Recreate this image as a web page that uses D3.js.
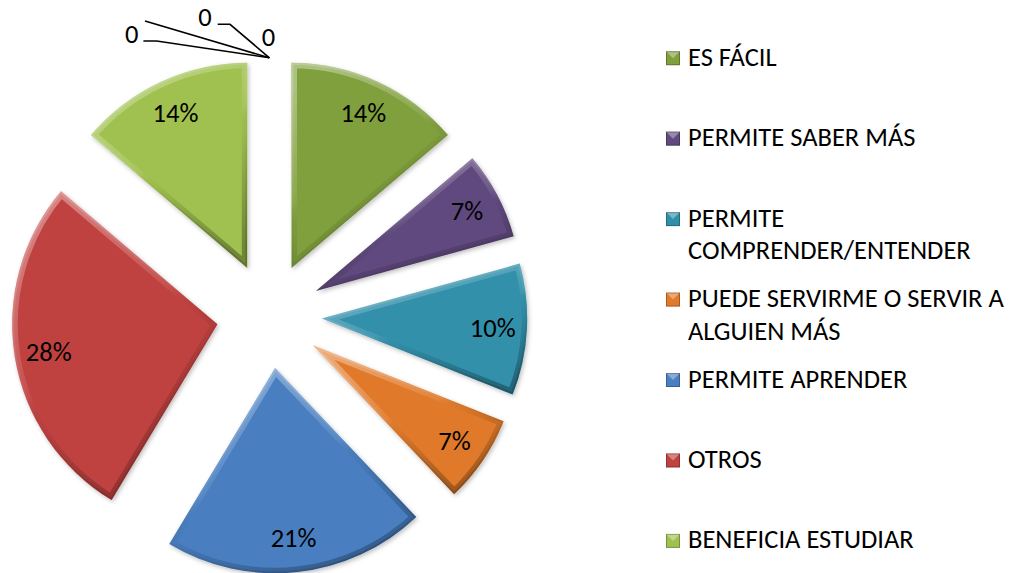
<!DOCTYPE html>
<html lang="es">
<head>
<meta charset="UTF-8">
<title>Pie chart</title>
<script src="https://d3js.org/d3.v7.min.js"></script>
<style>
  html, body { margin: 0; padding: 0; background: #fff; }
  svg { display: block; font-family: Carlito, Calibri, "Open Sans", sans-serif; }
  .pct, .zero { font-size: 26.5px; fill: #000; }
  .legend text { font-size: 26.5px; fill: #000; }
  .leader { fill: none; stroke: #000; stroke-width: 1.6; }
</style>
</head>
<body>
<svg id="chart" width="1011" height="573"></svg>
<script>
// data
const categories = [
  "ES FÁCIL",
  "PERMITE SABER MÁS",
  "PERMITE COMPRENDER/ENTENDER",
  "PUEDE SERVIRME O SERVIR A ALGUIEN MÁS",
  "PERMITE APRENDER",
  "OTROS",
  "BENEFICIA ESTUDIAR"
];
const counts = [4, 2, 3, 2, 6, 8, 4];
// three empty categories that only show up as "0" labels at the top
const zeroCounts = [0, 0, 0];
const palette = ["#809f3d", "#614a7e", "#3090ab", "#e07a2c", "#4a7fc1", "#c0423f", "#a0c150"];

// layout
const cx = 269.4, cy = 315.7;
const radius = 205.3, explode = 52.6, labelRadius = 171;

const svg = d3.select("#chart");
const defs = svg.append("defs");

// soft shadow under each slice
const shadow = defs.append("filter").attr("id", "shadow")
  .attr("x", "-20%").attr("y", "-20%").attr("width", "140%").attr("height", "140%");
shadow.append("feDropShadow")
  .attr("dx", 1.5).attr("dy", 2).attr("stdDeviation", 2)
  .attr("flood-color", "#000").attr("flood-opacity", 0.25);

// bevel: light on the upper edges, dark on the lower ones
const bevel = defs.append("linearGradient").attr("id", "bevel")
  .attr("x1", 0.25).attr("y1", 0).attr("x2", 0.75).attr("y2", 1);
[[0, "#fff", 0.35], [0.45, "#fff", 0.08], [0.55, "#000", 0.03], [1, "#000", 0.3]].forEach(s => {
  bevel.append("stop").attr("offset", s[0]).attr("stop-color", s[1]).attr("stop-opacity", s[2]);
});

const values = counts.concat(zeroCounts);
const total = d3.sum(values);
const pct = d3.format(".0%");

const pie = d3.pie().sort(null).value(d => d)(values);
const arc = d3.arc().innerRadius(0).outerRadius(radius);
const labelArc = d3.arc().innerRadius(labelRadius).outerRadius(labelRadius);

function midAngle(d) { return (d.startAngle + d.endAngle) / 2; }
function shift(d) {
  const a = midAngle(d);
  return [cx + explode * Math.sin(a), cy - explode * Math.cos(a)];
}

// slices
const slices = svg.append("g")
  .selectAll("g")
  .data(pie.filter(d => d.value > 0))
  .join("g")
  .attr("transform", d => `translate(${shift(d)})`);

slices.each(function(d) {
  const g = d3.select(this);
  const path = arc(d);
  const id = "clip" + d.index;
  defs.append("clipPath").attr("id", id).append("path").attr("d", path);
  g.append("path")
    .attr("d", path)
    .attr("fill", palette[d.index])
    .attr("filter", "url(#shadow)");
  const inner = g.append("g").attr("clip-path", `url(#${id})`);
  inner.append("path")
    .attr("d", path)
    .attr("fill", "none")
    .attr("stroke", "url(#bevel)")
    .attr("stroke-width", 11)
    .attr("stroke-linejoin", "miter")
    .attr("stroke-miterlimit", 30);
  inner.append("path")
    .attr("d", path)
    .attr("fill", "none")
    .attr("stroke", "url(#bevel)")
    .attr("stroke-width", 4)
    .attr("stroke-opacity", 0.5)
    .attr("stroke-linejoin", "miter")
    .attr("stroke-miterlimit", 30);
});

slices.append("text")
  .attr("class", "pct")
  .attr("transform", d => `translate(${labelArc.centroid(d)})`)
  .attr("text-anchor", "middle")
  .attr("dy", "0.35em")
  .text(d => pct(d.value / total));

// labels for the empty slices
const zeroLabelOffsets = [[-137.7, -24.5], [-64.4, -40.8], [-1, -20.8]];
const leaders = [
  [[-126, -16.8], [-112.7, -16.8], [0, 0]],
  [[-51.7, -33.5], [-39.4, -33.5], [0, 0]],
  [[-124.4, -36.8], [0, 0]]
];
const zeros = pie.filter(d => d.value === 0);
const tip = (() => {
  const d = zeros[0];
  const s = shift(d), a = d.startAngle;
  return [s[0] + radius * Math.sin(a), s[1] - radius * Math.cos(a)];
})();

const zeroG = svg.append("g").attr("transform", `translate(${tip})`);
zeroG.selectAll("path")
  .data(leaders)
  .join("path")
  .attr("class", "leader")
  .attr("d", d3.line());
zeroG.selectAll("text")
  .data(zeros)
  .join("text")
  .attr("class", "zero")
  .attr("x", (d, i) => zeroLabelOffsets[i][0])
  .attr("y", (d, i) => zeroLabelOffsets[i][1])
  .attr("text-anchor", "middle")
  .attr("dy", "0.35em")
  .text(d => d.value);

// legend
const legendX = 666, textX = 688, firstBaseline = 65.7, step = 80.45, lineHeight = 32.7, maxWidth = 322;
const marker = 14;

const legend = svg.append("g").attr("class", "legend")
  .selectAll("g")
  .data(categories)
  .join("g")
  .attr("transform", (d, i) => `translate(0,${firstBaseline + i * step})`);

legend.append("rect")
  .attr("x", legendX).attr("y", -marker - 0.5)
  .attr("width", marker).attr("height", marker)
  .attr("fill", (d, i) => palette[i]);
legend.append("path")
  .attr("d", `M${legendX},${-marker - 0.5}h${marker}l${-marker / 2},${marker / 2}z`)
  .attr("fill", "#fff").attr("fill-opacity", 0.35);
legend.append("rect")
  .attr("x", legendX + 0.5).attr("y", -marker)
  .attr("width", marker - 1).attr("height", marker - 1)
  .attr("fill", "none").attr("stroke", "#000").attr("stroke-opacity", 0.25);

legend.append("text")
  .attr("x", textX)
  .each(function(label) {
    const text = d3.select(this);
    const words = label.split(" ");
    let line = [];
    let tspan = text.append("tspan").attr("x", textX).attr("y", 0);
    let n = 0;
    words.forEach(w => {
      line.push(w);
      tspan.text(line.join(" "));
      if (tspan.node().getComputedTextLength() > maxWidth && line.length > 1) {
        line.pop();
        tspan.text(line.join(" "));
        line = [w];
        n += 1;
        tspan = text.append("tspan").attr("x", textX).attr("y", n * lineHeight).text(w);
      }
    });
  });
</script>
</body>
</html>
